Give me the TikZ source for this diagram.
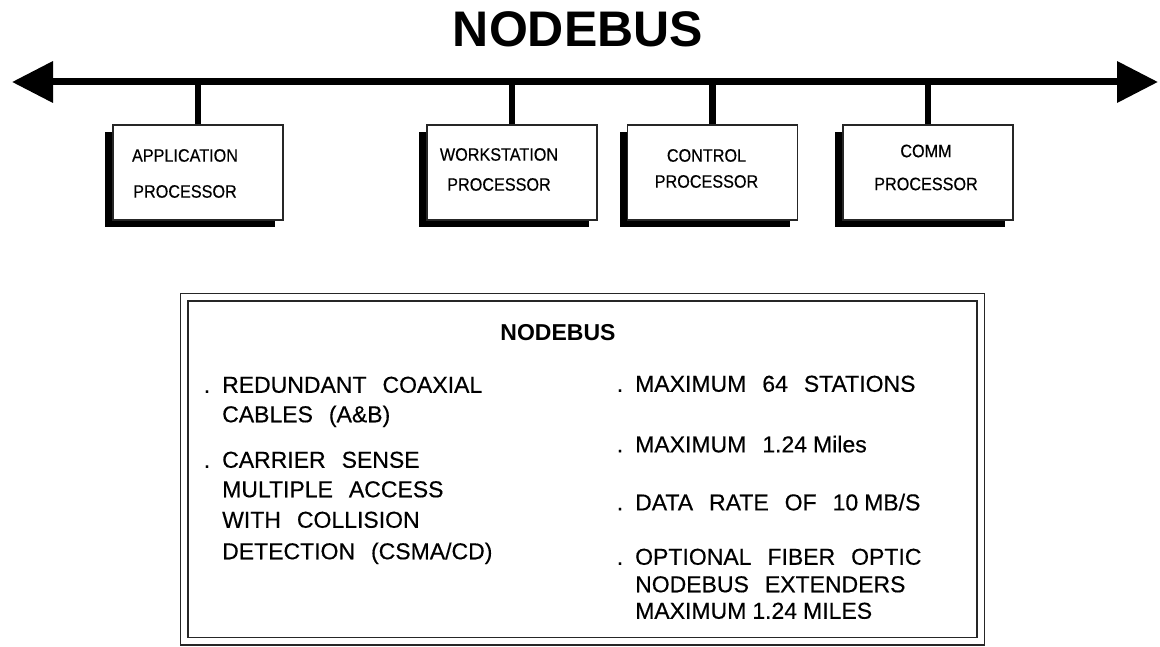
\documentclass[tikz,border=0pt]{standalone}
\usepackage{fontspec}
\setmainfont{Liberation Sans}
\newfontfamily\narrowfont[FakeStretch=0.9,FakeBold=0.4]{Liberation Sans}
\newfontfamily\listfont[WordSpace=2.5,FakeBold=0.4]{Liberation Sans}
\usetikzlibrary{arrows.meta,positioning,shadows}
\newcommand{\nsp}{\hspace{6pt}}
\newcommand{\bul}{\llap{.\hspace{12pt}}}
\tikzset{
  bus/.style={line width=7pt,{Triangle[length=41pt,width=40pt]}-{Triangle[length=41pt,width=40pt]}},
  drop/.style={line width=6.5pt},
  proc/.style={rectangle,draw=black!85,line width=1.4pt,fill=white,
    minimum width=170pt,minimum height=95pt,
    drop shadow={shadow xshift=-8pt,shadow yshift=-7pt,fill=black,opacity=1}},
  proclabel/.style={align=center,inner sep=0pt,font=\narrowfont\fontsize{18}{32}\selectfont},
  frame/.style={rectangle,draw=black!85,line width=1.5pt,double=white,double distance=6pt,
    minimum width=796.5pt,minimum height=343.5pt},
  item/.style={align=left,anchor=north west,inner sep=0pt,font=\listfont\fontsize{23}{29.5}\selectfont}
}
\begin{document}
\begin{tikzpicture}[x=1pt,y=-1pt]
\useasboundingbox (0,0) rectangle (1160,647);
\node[anchor=base,font=\bfseries\fontsize{50}{60}\selectfont] (title) at (578,47) {NODEBUS};
\coordinate (busL) at (12,82);
\coordinate (busR) at (1158,82);
\draw[bus] (busL) -- (busR);
% processors on the bus
\node[proc] (app) at (198,172.5) {};
\node[proc] (ws) at (512,172.5) {};
\node[proc] (ctl) at (712.5,172.5) {};
\node[proc] (comm) at (928,172.5) {};
\node[proclabel] (appl) at ([xshift=-13pt,yshift=-1pt]app.center) {APPLICATION\\[4pt]PROCESSOR};
\node[proclabel] (wsl) at ([xshift=-13pt,yshift=3pt]ws.center) {WORKSTATION\\[-2pt]PROCESSOR};
\node[proclabel] (ctll) at ([xshift=-6pt,yshift=4pt]ctl.center) {CONTROL\\[-6pt]PROCESSOR};
\node[proclabel] (comml) at ([xshift=-2pt,yshift=5pt]comm.center) {COMM\\[1pt]PROCESSOR};
\foreach \p in {app,ws,ctl,comm}
  \draw[drop] (\p.north) -- (\p.north |- busL);
% summary frame
\node[frame] (spec) at (582.25,469.25) {};
\node[anchor=base,font=\bfseries\fontsize{23}{28}\selectfont] (spect) at (558,340) {NODEBUS};
\node[item] (lt1) at (222,376.5) {\bul REDUNDANT COAXIAL\\CABLES (A\&B)};
\node[item] (lt2) at (222,451.5) {\bul CARRIER SENSE\\MULTIPLE ACCESS\\[1pt]WITH COLLISION\\[2pt]DETECTION (CSMA/CD)};
\node[item] (rt1) at (635,375.5) {\bul MAXIMUM 64 STATIONS};
\node[item] (rt2) at (635,435.5) {\bul MAXIMUM 1.24\nsp Miles};
\node[item] (rt3) at (635,493.5) {\bul DATA RATE OF 10\nsp MB/S};
\node[item] (rt4) at (635,548.5) {\bul OPTIONAL FIBER OPTIC\\[-2pt]NODEBUS EXTENDERS\\[-3pt]MAXIMUM\nsp 1.24\nsp MILES};
\end{tikzpicture}
\end{document}
